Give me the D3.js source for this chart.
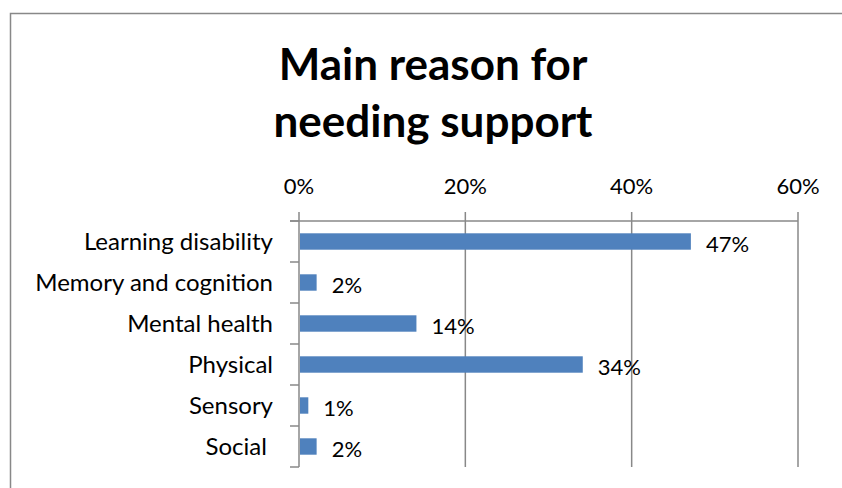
<!DOCTYPE html>
<html>
<head>
<meta charset="utf-8">
<script src="https://cdn.jsdelivr.net/npm/d3@7"></script>
<style>
  body { margin: 0; background: #fff; }
  svg { display: block; font-family: Lato, "Open Sans", sans-serif; }
</style>
</head>
<body>
<div id="chart"></div>
<script>
// Données du graphique
const categories = ['Learning disability', 'Memory and cognition', 'Mental health', 'Physical', 'Sensory', 'Social '];
const values = [47, 2, 14, 34, 1, 2];
const ticks = [0, 20, 40, 60];
const titleLines = ['Main reason for', 'needing support'];

const W = 842, H = 488;
const plot = { left: 299, right: 798, top: 221, bottom: 467 };

const svg = d3.select('#chart').append('svg')
    .attr('width', W)
    .attr('height', H);

// Cadre
svg.append('rect')
    .attr('x', 10.5).attr('y', 13.5)
    .attr('width', 900).attr('height', 600)
    .attr('fill', 'none')
    .attr('stroke', '#888')
    .attr('stroke-width', 1.5);

// Titre
svg.append('text')
    .attr('x', 433).attr('y', 80)
    .attr('text-anchor', 'middle')
    .style('font-size', '44px')
    .style('font-weight', '700')
    .selectAll('tspan')
    .data(titleLines)
    .join('tspan')
    .attr('x', 433)
    .attr('dy', (d, i) => i === 0 ? 0 : 57)
    .text(d => d);

// Échelles
const x = d3.scaleLinear().domain([0, 60]).range([plot.left, plot.right]);
const y = d3.scaleBand().domain(categories).range([plot.top, plot.bottom]).paddingInner(0.6).paddingOuter(0.3);

// Grille verticale + ticks vers le haut
svg.append('g')
    .selectAll('line')
    .data(ticks)
    .join('line')
    .attr('x1', d => x(d)).attr('x2', d => x(d))
    .attr('y1', plot.top - 9).attr('y2', plot.bottom)
    .attr('stroke', '#888')
    .attr('stroke-width', 1.5);

// Axe horizontal en haut
svg.append('line')
    .attr('x1', plot.left - 9).attr('x2', plot.right)
    .attr('y1', plot.top).attr('y2', plot.top)
    .attr('stroke', '#888')
    .attr('stroke-width', 1.5);

// Labels des ticks
svg.append('g')
    .selectAll('text')
    .data(ticks)
    .join('text')
    .attr('x', d => x(d))
    .attr('y', 194)
    .attr('text-anchor', 'middle')
    .style('font-size', '22px')
    .text(d => d + '%');

// Ticks de l'axe vertical (limites des catégories)
const step = (plot.bottom - plot.top) / categories.length;
svg.append('g')
    .selectAll('line')
    .data(d3.range(categories.length + 1))
    .join('line')
    .attr('x1', plot.left - 9).attr('x2', plot.left)
    .attr('y1', i => plot.top + i * step).attr('y2', i => plot.top + i * step)
    .attr('stroke', '#888')
    .attr('stroke-width', 1.5);

// Barres
svg.append('g')
    .selectAll('rect')
    .data(values)
    .join('rect')
    .attr('x', x(0) + 1)
    .attr('y', (d, i) => y(categories[i]))
    .attr('width', d => x(d) - x(0))
    .attr('height', y.bandwidth())
    .attr('fill', '#4f81bd');

// Catégories
svg.append('g')
    .selectAll('text')
    .data(categories)
    .join('text')
    .attr('x', 273)
    .attr('y', d => y(d) + y.bandwidth() / 2 + 8)
    .attr('text-anchor', 'end')
    .style('font-size', '24px')
    .style('white-space', 'pre')
    .text(d => d);

// Valeurs
svg.append('g')
    .selectAll('text')
    .data(values)
    .join('text')
    .attr('x', d => x(d) + 16)
    .attr('y', (d, i) => y(categories[i]) + y.bandwidth() / 2 + 10)
    .style('font-size', '22px')
    .text(d => d + '%');
</script>
</body>
</html>
